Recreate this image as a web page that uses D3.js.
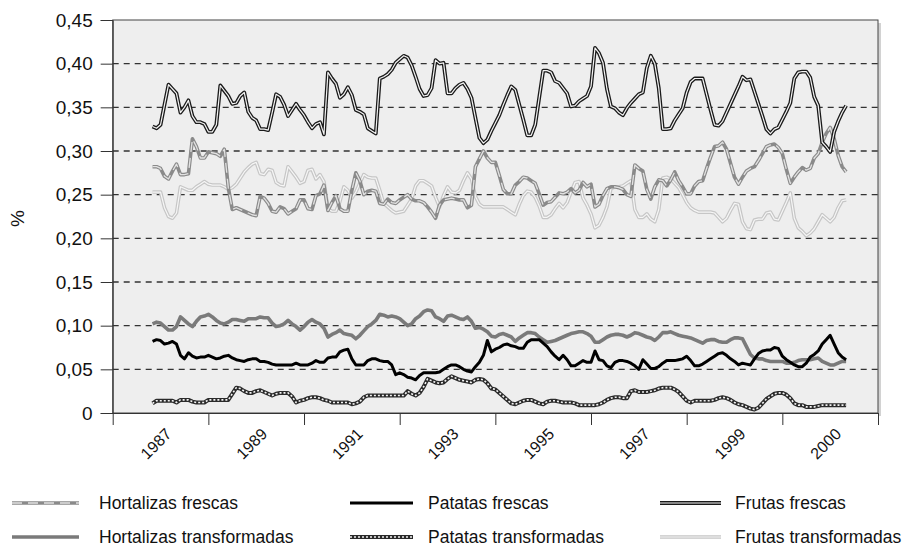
<!DOCTYPE html>
<html><head><meta charset="utf-8">
<script src="https://cdn.jsdelivr.net/npm/d3@7"></script>
<style>
body{margin:0;background:#fff}
svg{display:block}
text{font-family:"Liberation Sans",Arial,Helvetica,sans-serif;fill:#111}
</style>
</head><body>
<svg id="chart" width="913" height="546"></svg>
<script>
// ---------- data ----------
const yTicks = [0, 0.05, 0.10, 0.15, 0.20, 0.25, 0.30, 0.35, 0.40, 0.45];
const yTickLabels = ["0", "0,05", "0,10", "0,15", "0,20", "0,25", "0,30", "0,35", "0,40", "0,45"];
const periodLabels = ["1987", "1989", "1991", "1993", "1995", "1997", "1999", "2000"];
const seriesNames = ["Hortalizas frescas", "Patatas frescas", "Frutas frescas",
                     "Hortalizas transformadas", "Patatas transformadas", "Frutas transformadas"];
// month index (on the category axis) of each monthly observation
const months = d3.range(10, 185);

const frutasFrescas = [
.328,.326,.330,.353,.376,.371,.366,.344,.350,.358,
.340,.333,.333,.331,.322,.322,.330,.375,.369,.363,
.354,.355,.363,.367,.345,.338,.335,.325,.325,.324,
.344,.365,.362,.353,.340,.347,.354,.347,.341,.333,
.326,.331,.333,.319,.390,.383,.377,.361,.365,.373,
.364,.347,.345,.342,.326,.323,.320,.383,.385,.388,
.393,.401,.405,.409,.407,.398,.385,.371,.363,.364,
.372,.404,.400,.401,.366,.366,.372,.376,.378,.371,
.361,.338,.315,.309,.313,.323,.332,.341,.353,.364,
.374,.370,.353,.336,.318,.318,.330,.361,.392,.392,
.390,.380,.378,.372,.366,.351,.352,.357,.360,.363,
.374,.418,.412,.401,.371,.351,.349,.344,.341,.349,
.355,.360,.365,.367,.395,.409,.400,.372,.325,.325,
.326,.335,.342,.349,.367,.379,.383,.383,.383,.365,
.347,.330,.329,.334,.344,.354,.364,.374,.385,.381,
.382,.368,.354,.340,.325,.320,.325,.327,.336,.345,
.355,.383,.390,.391,.391,.384,.362,.352,.310,.305,
.299,.322,.334,.344,.352];

const hortalizasFrescas = [
.282,.282,.280,.271,.268,.277,.285,.273,.273,.274,
.314,.305,.292,.292,.299,.298,.297,.294,.302,.258,
.233,.235,.233,.231,.229,.227,.226,.248,.246,.240,
.231,.230,.236,.234,.228,.231,.234,.244,.244,.234,
.233,.249,.251,.261,.232,.241,.249,.234,.231,.231,
.255,.275,.266,.250,.254,.255,.254,.240,.239,.245,
.241,.240,.244,.247,.250,.245,.243,.243,.241,.236,
.230,.223,.238,.244,.245,.246,.245,.244,.244,.235,
.238,.282,.291,.300,.292,.287,.287,.272,.256,.251,
.251,.261,.265,.270,.269,.266,.263,.251,.238,.241,
.242,.247,.252,.251,.253,.257,.252,.255,.264,.259,
.262,.236,.239,.249,.257,.259,.259,.258,.256,.250,
.248,.284,.280,.277,.256,.245,.259,.267,.266,.260,
.267,.276,.266,.259,.251,.251,.260,.265,.266,.280,
.293,.305,.306,.310,.302,.286,.270,.262,.270,.277,
.280,.282,.289,.297,.305,.307,.308,.304,.297,.279,
.263,.270,.276,.281,.278,.280,.292,.297,.310,.320,
.327,.314,.295,.282,.276];

const frutasTransformadas = [
.253,.253,.253,.235,.225,.223,.229,.259,.257,.255,
.255,.259,.262,.265,.262,.261,.261,.261,.259,.256,
.258,.262,.269,.276,.281,.285,.287,.274,.273,.279,
.278,.264,.261,.260,.282,.276,.270,.263,.265,.278,
.279,.268,.273,.265,.234,.231,.231,.242,.259,.255,
.246,.253,.263,.273,.270,.269,.269,.255,.240,.236,
.232,.229,.230,.231,.238,.245,.260,.266,.266,.263,
.260,.247,.236,.249,.259,.253,.252,.255,.266,.275,
.268,.248,.239,.236,.236,.236,.236,.236,.236,.233,
.230,.227,.239,.249,.254,.253,.247,.237,.224,.224,
.227,.234,.240,.235,.241,.253,.264,.265,.246,.238,
.228,.212,.215,.224,.236,.257,.259,.259,.260,.263,
.266,.233,.224,.224,.228,.222,.219,.233,.269,.270,
.268,.263,.258,.250,.241,.235,.232,.230,.230,.230,
.230,.229,.224,.219,.223,.232,.240,.239,.219,.211,
.210,.221,.222,.222,.229,.230,.222,.221,.231,.241,
.252,.223,.212,.208,.203,.206,.211,.219,.227,.223,
.219,.224,.235,.243,.244];

const hortalizasTransformadas = [
.102,.104,.103,.099,.095,.095,.099,.110,.106,.102,
.099,.105,.110,.111,.113,.110,.106,.103,.102,.104,
.107,.107,.106,.105,.108,.108,.108,.110,.109,.109,
.103,.099,.100,.102,.106,.102,.099,.095,.099,.104,
.107,.104,.102,.097,.087,.090,.092,.095,.091,.090,
.089,.085,.089,.094,.099,.102,.106,.113,.112,.110,
.111,.110,.108,.104,.100,.102,.108,.111,.116,.118,
.117,.110,.108,.105,.111,.112,.110,.108,.107,.110,
.105,.097,.098,.096,.093,.088,.087,.090,.091,.089,
.087,.082,.086,.089,.092,.092,.091,.087,.084,.081,
.082,.083,.085,.087,.089,.091,.092,.093,.093,.091,
.088,.081,.081,.084,.087,.089,.090,.090,.089,.087,
.089,.092,.091,.089,.087,.086,.083,.087,.092,.092,
.093,.091,.089,.088,.087,.086,.084,.082,.080,.083,
.084,.084,.082,.081,.081,.084,.086,.086,.085,.076,
.067,.063,.062,.062,.060,.059,.059,.059,.059,.057,
.057,.058,.060,.061,.061,.061,.062,.063,.059,.057,
.055,.055,.057,.059,.059];

const patatasFrescas = [
.082,.084,.083,.079,.080,.082,.079,.066,.062,.069,
.065,.063,.064,.064,.066,.064,.062,.063,.065,.066,
.063,.061,.060,.059,.061,.062,.062,.059,.059,.058,
.056,.055,.055,.055,.055,.055,.057,.055,.055,.055,
.057,.060,.058,.058,.063,.064,.064,.070,.072,.073,
.062,.055,.055,.055,.060,.062,.062,.060,.059,.059,
.055,.044,.046,.044,.041,.040,.038,.043,.046,.046,
.046,.046,.047,.050,.053,.055,.055,.053,.050,.048,
.047,.053,.058,.066,.083,.070,.073,.075,.078,.079,
.077,.076,.074,.074,.081,.084,.084,.084,.080,.076,
.070,.065,.061,.066,.061,.054,.054,.057,.060,.058,
.058,.071,.061,.060,.054,.052,.058,.060,.060,.059,
.057,.054,.050,.061,.056,.051,.051,.053,.057,.060,
.060,.060,.061,.062,.065,.060,.054,.054,.056,.059,
.062,.065,.068,.069,.066,.062,.059,.055,.057,.056,
.055,.062,.068,.071,.072,.072,.075,.074,.065,.061,
.058,.055,.053,.053,.057,.064,.067,.071,.079,.084,
.089,.079,.069,.064,.061];

const patatasTransformadas = [
.011,.014,.014,.014,.014,.014,.012,.015,.015,.015,
.013,.012,.012,.012,.015,.015,.015,.015,.015,.015,
.022,.029,.028,.025,.023,.023,.025,.026,.024,.022,
.020,.022,.023,.023,.023,.019,.012,.014,.015,.017,
.018,.018,.017,.015,.014,.012,.012,.012,.012,.012,
.010,.011,.013,.018,.020,.020,.020,.020,.020,.020,
.020,.020,.020,.020,.025,.022,.020,.023,.030,.039,
.037,.035,.034,.035,.039,.042,.040,.038,.037,.036,
.035,.038,.039,.038,.034,.028,.027,.023,.019,.015,
.011,.010,.012,.014,.015,.015,.013,.011,.010,.013,
.014,.014,.013,.012,.012,.012,.011,.009,.009,.009,
.009,.009,.010,.012,.015,.017,.018,.018,.017,.017,
.025,.026,.024,.024,.024,.025,.026,.028,.029,.029,
.029,.027,.024,.019,.014,.012,.014,.014,.014,.014,
.014,.015,.017,.018,.017,.015,.012,.010,.009,.007,
.005,.004,.006,.011,.016,.019,.022,.023,.023,.021,
.017,.011,.009,.009,.007,.007,.007,.008,.009,.009,
.009,.009,.009,.009,.009];

// ---------- styles ----------
const styles = {
  "Hortalizas frescas":      [{stroke:"#8a8a8a", w:3.6}, {stroke:"#e2e2e2", w:1.3, dash:"10,6"}],
  "Patatas frescas":         [{stroke:"#000", w:3}],
  "Frutas frescas":          [{stroke:"#1a1a1a", w:3.8}, {stroke:"#f4f4f4", w:1.2}],
  "Hortalizas transformadas":[{stroke:"#7a7a7a", w:3.6}],
  "Patatas transformadas":   [{stroke:"#2a2a2a", w:4}, {stroke:"#f4f4f4", w:1.6, dash:"2,2"}],
  "Frutas transformadas":    [{stroke:"#c6c6c6", w:3.6}, {stroke:"#f6f6f6", w:1.2}]
};
const valuesByName = {
  "Hortalizas frescas": hortalizasFrescas,
  "Patatas frescas": patatasFrescas,
  "Frutas frescas": frutasFrescas,
  "Hortalizas transformadas": hortalizasTransformadas,
  "Patatas transformadas": patatasTransformadas,
  "Frutas transformadas": frutasTransformadas
};
const drawOrder = ["Frutas transformadas", "Hortalizas frescas", "Frutas frescas",
                   "Hortalizas transformadas", "Patatas frescas", "Patatas transformadas"];

// ---------- layout ----------
const m = {left: 112.7, right: 878, top: 20, bottom: 413};
const svg = d3.select("#chart");

const x = d3.scaleLinear().domain([0, 192]).range([m.left, m.right]);
const y = d3.scaleLinear().domain([0, 0.45]).range([m.bottom, m.top]);

// shadow + plot background
svg.append("rect").attr("x", m.right).attr("y", m.top + 3)
  .attr("width", 3).attr("height", m.bottom - m.top).attr("fill", "#d2d2d2");
svg.append("rect").attr("x", m.left).attr("y", m.top)
  .attr("width", m.right - m.left).attr("height", m.bottom - m.top)
  .attr("fill", "#eeeeee").attr("stroke", "#444").attr("stroke-width", 1);

// dashed gridlines
svg.append("g").selectAll("line")
  .data(yTicks.filter(v => v > 0 && v < 0.45))
  .join("line")
  .attr("x1", m.left).attr("x2", m.right)
  .attr("y1", d => y(d)).attr("y2", d => y(d))
  .attr("stroke", "#333").attr("stroke-width", 1.3)
  .attr("stroke-dasharray", "6,5");

// series
const line = d3.line().x((d, i) => x(months[i])).y(d => y(d));
const gLines = svg.append("g");
drawOrder.forEach(name => {
  styles[name].forEach(s => {
    gLines.append("path")
      .datum(valuesByName[name])
      .attr("d", line)
      .attr("fill", "none")
      .attr("stroke", s.stroke)
      .attr("stroke-width", s.w)
      .attr("stroke-linejoin", "round")
      .attr("stroke-dasharray", s.dash || null);
  });
});

// y axis
const yAxis = d3.axisLeft(y).tickValues(yTicks)
  .tickFormat((d, i) => yTickLabels[i]).tickSize(12).tickPadding(8);
const gy = svg.append("g").attr("transform", `translate(${m.left},0)`).call(yAxis);
gy.select(".domain").attr("stroke", "#333");
gy.selectAll(".tick line").attr("stroke", "#333");
gy.selectAll(".tick text").attr("font-size", 19)
  .attr("font-family", '"Liberation Sans",Arial,sans-serif').attr("fill", "#111");

// x axis (period boundaries)
const xAxis = d3.axisBottom(x).tickValues(d3.range(0, 193, 24))
  .tickFormat("").tickSize(12).tickSizeOuter(0);
const gx = svg.append("g").attr("transform", `translate(0,${m.bottom})`).call(xAxis);
gx.select(".domain").attr("stroke", "#333");
gx.selectAll(".tick line").attr("stroke", "#333");

// period labels, centred in each period, rotated
svg.append("g").selectAll("text")
  .data(periodLabels)
  .join("text")
  .attr("transform", (d, i) => `translate(${x(12 + 24 * i) + 12},${m.bottom + 22}) rotate(-45)`)
  .attr("text-anchor", "end")
  .attr("font-size", 16)
  .text(d => d);

// y title
svg.append("text")
  .attr("transform", `translate(24,${(m.top + m.bottom) / 2 + 2}) rotate(-90)`)
  .attr("text-anchor", "middle").attr("font-size", 19).text("%");

// legend
const legendPos = [
  {sx: 12, ex: 79, tx: 99, ty: 503}, {sx: 350, ex: 413, tx: 428, ty: 503}, {sx: 660, ex: 721, tx: 735, ty: 503},
  {sx: 12, ex: 79, tx: 99, ty: 537}, {sx: 350, ex: 413, tx: 428, ty: 537}, {sx: 660, ex: 721, tx: 735, ty: 537}
];
const gl = svg.append("g");
seriesNames.forEach((name, i) => {
  const p = legendPos[i];
  styles[name].forEach(s => {
    gl.append("line").attr("x1", p.sx).attr("x2", p.ex).attr("y1", p.ty).attr("y2", p.ty)
      .attr("stroke", s.stroke).attr("stroke-width", s.w)
      .attr("stroke-dasharray", s.dash || null);
  });
  gl.append("text").attr("x", p.tx).attr("y", p.ty + 5.5).attr("font-size", 17.5).text(name);
});
</script>
</body></html>
